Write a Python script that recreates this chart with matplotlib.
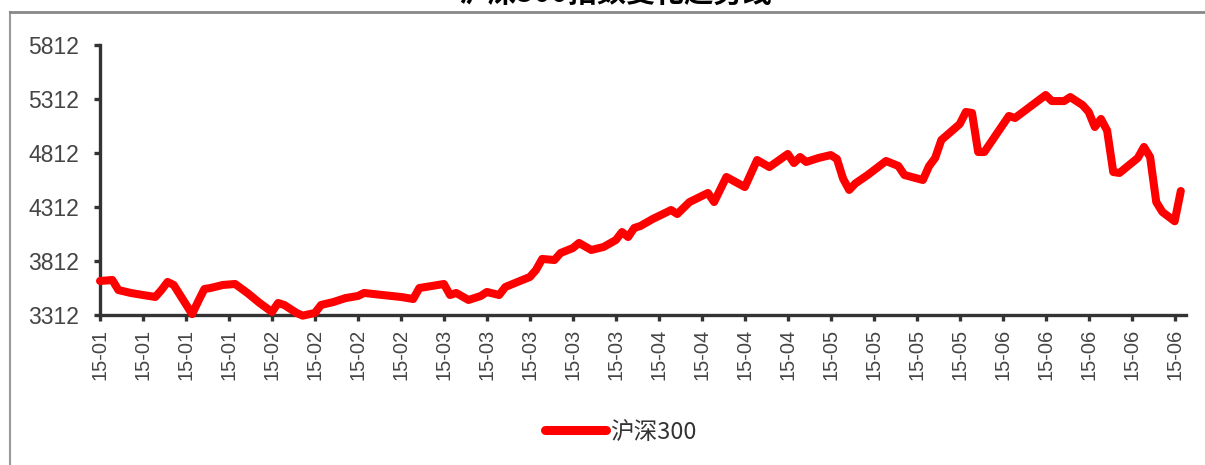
import matplotlib
matplotlib.use("Agg")
import matplotlib.pyplot as plt
import matplotlib.dates as mdates
import pandas as pd

plt.rcParams['font.family'] = ['Liberation Sans', 'Noto Sans CJK SC', 'DejaVu Sans']

# CSI 300 daily close (Jan - Jun 2015)
dates = ['2015-01-05', '2015-01-07', '2015-01-08', '2015-01-10', '2015-01-12', '2015-01-14',
         '2015-01-15', '2015-01-16', '2015-01-17', '2015-01-20', '2015-01-21', '2015-01-22',
         '2015-01-23', '2015-01-25', '2015-01-27', '2015-01-29', '2015-01-31', '2015-02-02',
         '2015-02-03', '2015-02-04', '2015-02-06', '2015-02-07', '2015-02-09', '2015-02-10',
         '2015-02-12', '2015-02-14', '2015-02-16', '2015-02-17', '2015-02-20', '2015-02-23',
         '2015-02-25', '2015-02-26', '2015-02-27', '2015-03-02', '2015-03-03', '2015-03-04',
         '2015-03-06', '2015-03-08', '2015-03-09', '2015-03-11', '2015-03-12', '2015-03-14',
         '2015-03-16', '2015-03-17', '2015-03-18', '2015-03-20', '2015-03-21', '2015-03-23',
         '2015-03-24', '2015-03-26', '2015-03-28', '2015-03-30', '2015-03-31', '2015-04-01',
         '2015-04-02', '2015-04-03', '2015-04-05', '2015-04-08', '2015-04-09', '2015-04-11',
         '2015-04-14', '2015-04-15', '2015-04-17', '2015-04-20', '2015-04-22', '2015-04-24',
         '2015-04-27', '2015-04-28', '2015-04-29', '2015-04-30', '2015-05-02', '2015-05-04',
         '2015-05-05', '2015-05-06', '2015-05-07', '2015-05-08', '2015-05-10', '2015-05-13',
         '2015-05-15', '2015-05-16', '2015-05-19', '2015-05-20', '2015-05-21', '2015-05-22',
         '2015-05-25', '2015-05-26', '2015-05-27', '2015-05-28', '2015-05-29', '2015-06-02',
         '2015-06-03', '2015-06-08', '2015-06-09', '2015-06-11', '2015-06-12', '2015-06-14',
         '2015-06-15', '2015-06-16', '2015-06-17', '2015-06-18', '2015-06-19', '2015-06-20',
         '2015-06-23', '2015-06-24', '2015-06-25', '2015-06-26', '2015-06-27', '2015-06-29',
         '2015-06-30']
values = [3627, 3636, 3543, 3516, 3497, 3479,
          3543, 3618, 3590, 3320, 3440, 3553,
          3562, 3590, 3599, 3516, 3423, 3340,
          3423, 3405, 3331, 3306, 3331, 3405,
          3432, 3469, 3488, 3516, 3497, 3479,
          3460, 3562, 3571, 3599, 3497, 3516,
          3451, 3488, 3525, 3497, 3571, 3618,
          3664, 3729, 3831, 3821, 3886, 3932,
          3979, 3914, 3942, 4006, 4080, 4034,
          4118, 4136, 4201, 4284, 4247, 4358,
          4442, 4358, 4590, 4497, 4747, 4682,
          4803, 4719, 4775, 4729, 4766, 4793,
          4757, 4575, 4470, 4530, 4608, 4738,
          4692, 4608, 4562, 4690, 4766, 4932,
          5080, 5192, 5183, 4821, 4821, 5155,
          5136, 5349, 5293, 5293, 5330, 5256,
          5192, 5053, 5127, 5020, 4636, 4627,
          4766, 4868, 4775, 4358, 4266, 4180,
          4460]
yticks = [3312, 3812, 4312, 4812, 5312, 5812]
series_name = '沪深300'
title = '沪深300指数变化趋势线'

x = pd.to_datetime(dates)
tick_dates = pd.date_range('2015-01-05', '2015-06-29', freq='7D')

fig = plt.figure(figsize=(12.05, 4.65), dpi=100)
ax = fig.add_axes([0.083, 0.3226, 0.901, 0.5806])

line, = ax.plot(x, values, color='#ff0000', linewidth=5.8, solid_capstyle='round',
                solid_joinstyle='round', clip_on=False, zorder=3)

ax.set_ylim(3312, 5812)
ax.set_yticks(yticks)
ax.set_xlim(pd.Timestamp('2015-01-05'), pd.Timestamp('2015-01-05') + pd.Timedelta(days=176.8))
ax.set_xticks(tick_dates)
ax.xaxis.set_major_formatter(mdates.DateFormatter('%y-%m'))
plt.setp(ax.get_xticklabels(), rotation=90)

for s in ['top', 'right']:
    ax.spines[s].set_visible(False)
for s in ['left', 'bottom']:
    ax.spines[s].set_color('#333333')
    ax.spines[s].set_linewidth(2.4)
ax.tick_params(axis='both', direction='out', length=4, width=2.4, color='#333333',
               labelcolor='#454545')
ax.tick_params(axis='y', labelsize=16.5, pad=11)
ax.tick_params(axis='x', labelsize=14.5, pad=6)

# legend below the plot
fig.legend([line], [series_name], loc='center', bbox_to_anchor=(0.515, 0.071),
           frameon=False, handlelength=2.6, handletextpad=0.15,
           prop={'family': ['Noto Sans CJK SC'], 'size': 17, 'weight': 'medium'})
for t in fig.legends[0].get_texts():
    t.set_color('#333333')
fig.legends[0].get_lines()[0].set_linewidth(6.5)

# cropped title above the frame line
fig.text(0.51, 0.983, title, ha='center', va='bottom', fontsize=21, fontweight='bold',
         family=['Noto Sans CJK SC'], color='black')

# outer frame (left and top edges)
fig.add_artist(plt.Line2D([0.0083, 0.0083], [0, 0.974], color='#999999', linewidth=1.5,
                          transform=fig.transFigure))
fig.add_artist(plt.Line2D([0.0083, 1.0], [0.974, 0.974], color='#888888', linewidth=2,
                          transform=fig.transFigure))

fig.savefig('out.png', dpi=100)
